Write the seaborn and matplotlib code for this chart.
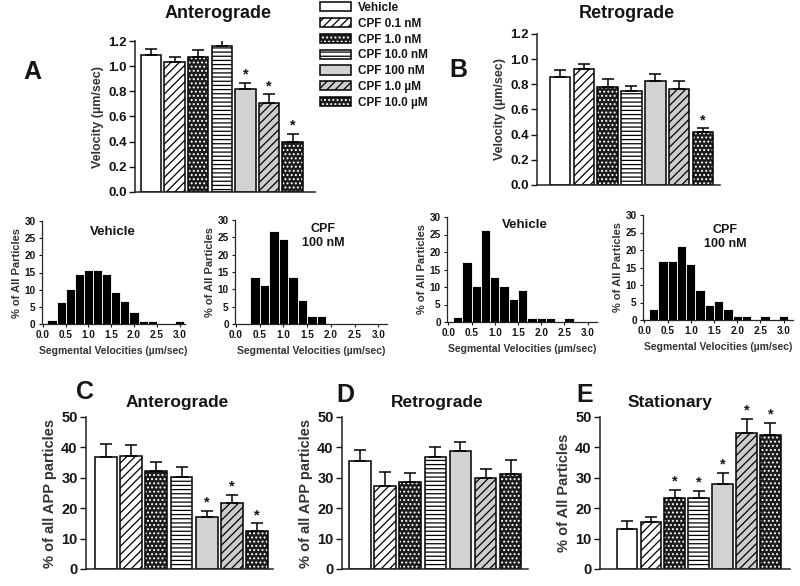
import numpy as np
import pandas as pd
import matplotlib
matplotlib.use("Agg")
import matplotlib.pyplot as plt
import seaborn as sns
from matplotlib.patches import Patch, Rectangle
from matplotlib.ticker import FormatStrFormatter

# ---------------- data ----------------
treatments = ["Vehicle", "CPF 0.1 nM", "CPF 1.0 nM", "CPF 10.0 nM",
              "CPF 100 nM", "CPF 1.0 \u00b5M", "CPF 10.0 \u00b5M"]

antero_velocity = [1.09, 1.03, 1.07, 1.16, 0.82, 0.71, 0.40]
antero_velocity_err = [0.05, 0.045, 0.06, 0.045, 0.05, 0.065, 0.06]
antero_velocity_sig = [4, 5, 6]

retro_velocity = [0.86, 0.92, 0.78, 0.75, 0.83, 0.76, 0.42]
retro_velocity_err = [0.05, 0.04, 0.06, 0.035, 0.05, 0.065, 0.03]
retro_velocity_sig = [6]

antero_pct = [37.0, 37.2, 32.3, 30.3, 17.0, 21.6, 12.6]
antero_pct_err = [4.0, 3.5, 2.8, 3.1, 2.1, 2.8, 2.4]
antero_pct_sig = [4, 5, 6]

retro_pct = [35.4, 27.3, 28.7, 36.9, 38.8, 29.8, 31.4]
retro_pct_err = [3.7, 4.7, 3.0, 3.3, 3.0, 3.1, 4.4]
retro_pct_sig = []

stationary_pct = [13.3, 15.3, 23.2, 23.2, 28.1, 44.7, 44.2]
stationary_pct_err = [2.5, 1.9, 2.7, 2.5, 3.5, 4.8, 3.8]
stationary_pct_sig = [2, 3, 4, 5, 6]

# segmental velocity histograms (bin centres, % of particles)
antero_vehicle_bins = [0.2, 0.4, 0.6, 0.8, 1.0, 1.2, 1.4, 1.6, 1.8, 2.0, 2.2, 2.4, 2.6, 2.8, 3.0]
antero_vehicle_pct = [1.2, 6.5, 10.2, 14.7, 15.8, 15.8, 14.7, 9.3, 6.8, 3.5, 1.0, 1.0, 0.0, 0.0, 1.0]

antero_cpf_bins = [0.4, 0.6, 0.8, 1.0, 1.2, 1.4, 1.6, 1.8]
antero_cpf_pct = [13.5, 11.2, 26.9, 24.6, 13.5, 6.8, 2.2, 2.2]

retro_vehicle_bins = [0.2, 0.4, 0.6, 0.8, 1.0, 1.2, 1.4, 1.6, 1.8, 2.0, 2.2, 2.4, 2.6]
retro_vehicle_pct = [1.4, 17.1, 10.4, 26.3, 13.0, 10.4, 6.6, 9.2, 1.2, 1.2, 1.2, 0.0, 1.2]

retro_cpf_bins = [0.2, 0.4, 0.6, 0.8, 1.0, 1.2, 1.4, 1.6, 1.8, 2.0, 2.2, 2.4, 2.6, 2.8, 3.0]
retro_cpf_pct = [3.2, 17.0, 17.0, 21.2, 15.9, 8.6, 4.3, 5.4, 3.2, 1.1, 1.1, 0.0, 1.1, 0.0, 1.1]

hist_bin_edges = [round(0.1 + 0.2 * k, 2) for k in range(16)]

# ---------------- styles ----------------
face_colors = ["white", "white", "#1c1c1c", "white", "#d2d2d2", "#cdcdcd", "#1c1c1c"]
hatches = [None, "////", "....", "----", None, "////", "...."]
hatch_colors = ["black", "black", "white", "black", "black", "black", "white"]

W, H = 800, 586
sns.set_style("ticks")
plt.rcParams["font.family"] = ["Liberation Sans", "DejaVu Sans"]
plt.rcParams["font.weight"] = "bold"
plt.rcParams["hatch.linewidth"] = 0.9
TXT = "#151515"

fig = plt.figure(figsize=(W / 100, H / 100), dpi=100)


def px_axes(l, t, r, b):
    return fig.add_axes([l / W, 1 - b / H, (r - l) / W, (b - t) / H])


def fig_text(x, y, s, size, **kw):
    fig.text(x / W, 1 - y / H, s, ha="center", va="center", fontsize=size,
             fontweight="bold", color=TXT, **kw)


def style_bars(ax):
    pats = sorted(ax.patches, key=lambda p: p.get_x())
    for p, fc, h, hc in zip(pats, face_colors, hatches, hatch_colors):
        p.set_facecolor(fc)
        p.set_hatch(h)
        p.set_edgecolor(hc)
        p.set_linewidth(0)
        ax.add_patch(Rectangle((p.get_x(), p.get_y()), p.get_width(), p.get_height(),
                               fill=False, edgecolor="black", linewidth=1.1,
                               zorder=p.get_zorder() + 0.1))
    return pats


def bar_panel(ax, vals, errs, sig, ymax, ystep, fmt, ylabel, xlim, width,
              tick_size, ylab_size):
    df = pd.DataFrame({"treatment": treatments, "value": vals})
    sns.barplot(data=df, x="treatment", y="value", hue="treatment",
                palette=dict(zip(treatments, face_colors)), dodge=False,
                legend=False, width=width, saturation=1, errorbar=None, ax=ax)
    pats = style_bars(ax)
    xs = np.array([p.get_x() + p.get_width() / 2 for p in pats])
    ax.errorbar(xs, vals, yerr=[np.zeros(len(vals)), errs], fmt="none",
                ecolor="black", elinewidth=1.1, capsize=4.5, capthick=1.1, zorder=1)
    for i in sig:
        ax.annotate("*", (xs[i], vals[i] + errs[i]), xytext=(0, 1),
                    textcoords="offset points", ha="center", va="bottom",
                    fontsize=10.5, fontweight="bold", color=TXT)
    ax.set_ylim(0, ymax)
    ax.set_yticks(np.arange(0, ymax + ystep / 2, ystep))
    ax.yaxis.set_major_formatter(FormatStrFormatter(fmt))
    ax.set_xlim(*xlim)
    ax.set_xticks([])
    ax.set_xlabel("")
    ax.set_ylabel(ylabel, fontsize=ylab_size, fontweight="bold", color="#333333", labelpad=3)
    ax.tick_params(axis="y", labelsize=tick_size, width=1, length=4, colors=TXT, pad=2)
    for lab in ax.get_yticklabels():
        lab.set_fontweight("bold")
    sns.despine(ax=ax)
    for s in ("left", "bottom"):
        ax.spines[s].set_linewidth(1.1)
        ax.spines[s].set_color("#222222")


def hist_panel(ax, centers, pct, xlim):
    df = pd.DataFrame({"velocity": centers, "pct": pct})
    sns.histplot(data=df, x="velocity", weights="pct", bins=hist_bin_edges,
                 color="black", edgecolor="white", linewidth=0.6, alpha=1, ax=ax)
    ax.set_xlim(*xlim)
    ax.set_ylim(0, 30)
    ax.set_yticks(np.arange(0, 31, 5))
    ax.set_xticks(np.arange(0, 3.01, 0.5))
    ax.xaxis.set_major_formatter(FormatStrFormatter("%.1f"))
    ax.set_xlabel("Segmental Velocities (\u00b5m/sec)", fontsize=7.5,
                  fontweight="bold", color="#333333", labelpad=4)
    ax.set_ylabel("% of All Particles", fontsize=8, fontweight="bold",
                  color="#333333", labelpad=2)
    ax.tick_params(labelsize=7.2, width=0.8, length=2.5, colors=TXT, pad=2)
    sns.despine(ax=ax)
    for s in ("left", "bottom"):
        ax.spines[s].set_linewidth(0.9)


# ---------------- top bar panels ----------------
axA = px_axes(135, 41, 315, 192)
bar_panel(axA, antero_velocity, antero_velocity_err, antero_velocity_sig, 1.2, 0.2,
          "%.1f", "Velocity (\u00b5m/sec)", (-0.68, 6.95), 0.86, 9.5, 9)
axB = px_axes(537, 34, 720, 185)
bar_panel(axB, retro_velocity, retro_velocity_err, retro_velocity_sig, 1.2, 0.2,
          "%.1f", "Velocity (\u00b5m/sec)", (-0.97, 6.72), 0.86, 9.5, 9)

fig_text(218, 13, "Anterograde", 13)
fig_text(627, 13, "Retrograde", 13)
fig_text(32, 72, "A", 18)
fig_text(458, 70, "B", 18)

# ---------------- histograms ----------------
h1 = px_axes(42, 221, 185, 324)
hist_panel(h1, antero_vehicle_bins, antero_vehicle_pct, (-0.02, 3.12))
h2 = px_axes(235, 220, 387, 324)
hist_panel(h2, antero_cpf_bins, antero_cpf_pct, (-0.02, 3.18))
h3 = px_axes(447, 217, 597, 322)
hist_panel(h3, retro_vehicle_bins, retro_vehicle_pct, (-0.03, 3.2))
h4 = px_axes(643, 215, 793, 320)
hist_panel(h4, retro_cpf_bins, retro_cpf_pct, (-0.03, 3.2))

fig_text(113, 232, "Vehicle", 9.5)
fig_text(323, 236, "CPF\n100 nM", 9, linespacing=1.15)
fig_text(525, 225, "Vehicle", 9.5)
fig_text(725, 237, "CPF\n100 nM", 9, linespacing=1.15)

# ---------------- bottom bar panels ----------------
axC = px_axes(86, 417, 273, 569)
bar_panel(axC, antero_pct, antero_pct_err, antero_pct_sig, 50, 10, "%d",
          "% of all APP particles", (-0.79, 6.63), 0.86, 10.5, 10.5)
axD = px_axes(342, 417, 528, 569)
bar_panel(axD, retro_pct, retro_pct_err, retro_pct_sig, 50, 10, "%d",
          "% of all APP particles", (-0.72, 6.69), 0.86, 10.5, 10.5)
axE = px_axes(600, 417, 790, 569)
bar_panel(axE, stationary_pct, stationary_pct_err, stationary_pct_sig, 50, 10, "%d",
          "% of All Particles", (-1.13, 6.82), 0.87, 10.5, 10.5)

fig_text(85, 392, "C", 18)
fig_text(345, 395, "D", 18)
fig_text(585, 395, "E", 18)
fig_text(177, 403, "Anterograde", 12.5)
fig_text(437, 403, "Retrograde", 12.5)
fig_text(670, 403, "Stationary", 12.5)

# ---------------- legend ----------------
handles = []
for fc, h, hc in zip(face_colors, hatches, hatch_colors):
    fill = Patch(facecolor=fc, hatch=h, edgecolor=hc, linewidth=0)
    outline = Patch(facecolor="none", edgecolor="black", linewidth=1.1)
    handles.append((fill, outline))
fig.legend(handles, treatments, loc="upper left", bbox_to_anchor=(320 / W, 1 - 2 / H),
           frameon=False, handlelength=2.6, handleheight=0.8, labelspacing=0.32,
           handletextpad=0.6, borderpad=0, borderaxespad=0,
           prop={"weight": "bold", "size": 8.5, "family": ["Liberation Sans", "DejaVu Sans"]},
           labelcolor=TXT)

fig.savefig("out.png", dpi=100)
